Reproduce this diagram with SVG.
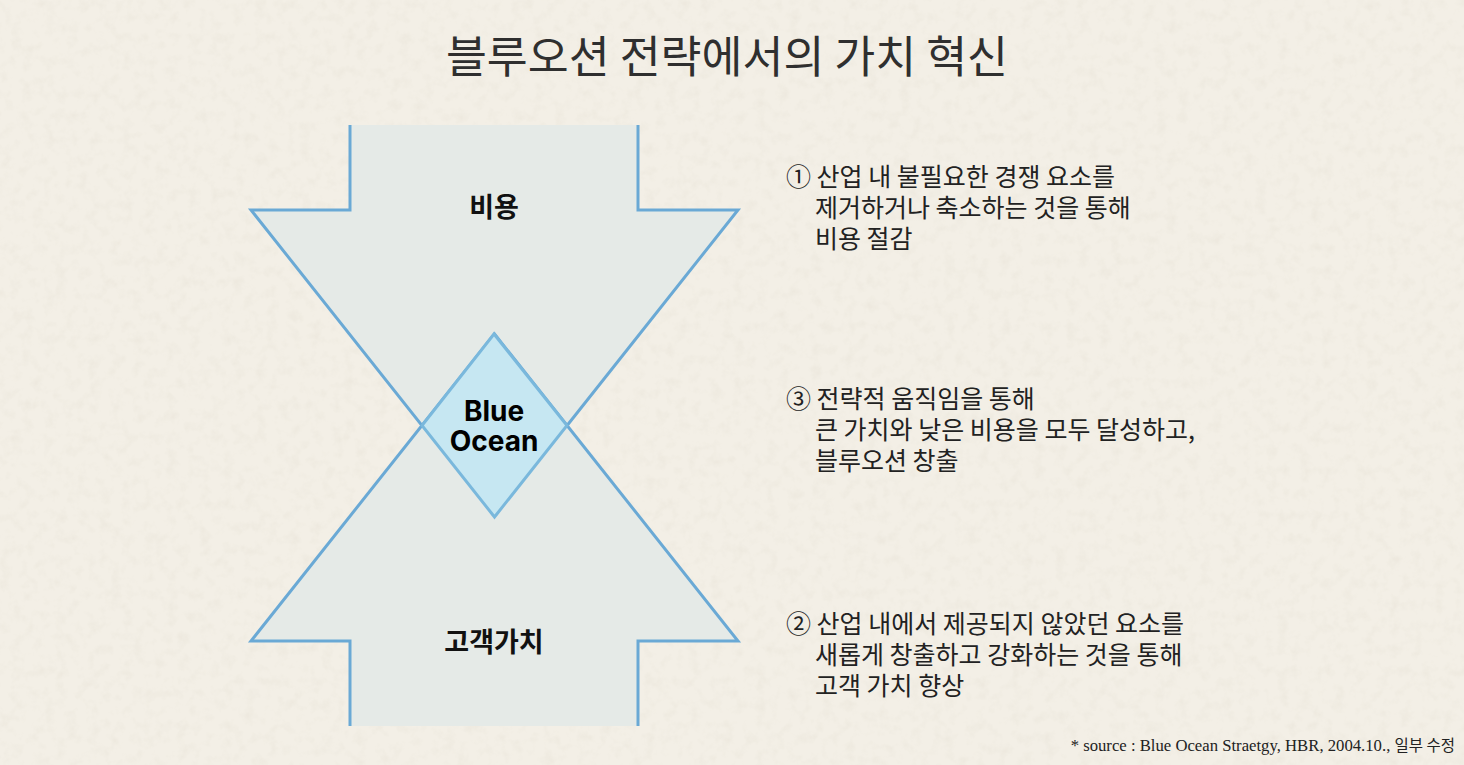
<svg xmlns="http://www.w3.org/2000/svg" width="1464" height="765" viewBox="0 0 1464 765">
  <defs>
    <filter id="paper" x="0" y="0" width="100%" height="100%">
      <feTurbulence type="fractalNoise" baseFrequency="0.09" numOctaves="3" seed="7" result="n"/>
      <feColorMatrix type="matrix" values="0 0 0 0 0.6  0 0 0 0 0.56  0 0 0 0 0.45  0 0 0 -2.4 1.3" in="n" result="c"/>
      <feComposite in="c" in2="SourceGraphic" operator="in"/>
    </filter>
    <style>
      .bg { fill: #f3efe6; }
      .arrowFill { fill: #e5eae7; stroke: none; }
      .arrowEdge { fill: none; stroke: #6aa9d5; stroke-width: 3; stroke-linejoin: miter; }
      .diamond { fill: #c6e7f2; stroke: #7ab8dc; stroke-width: 3; stroke-linejoin: miter; }
      .label { font-family: "Noto Sans CJK KR", "Noto Sans", sans-serif; font-weight: 700; font-size: 27px; fill: #111; text-anchor: middle; }
      .blue { font-family: Inter, "Liberation Sans", sans-serif; font-weight: 700; font-size: 28px; fill: #000; text-anchor: middle; }
      .title { font-family: "Noto Sans CJK KR", "Noto Sans", sans-serif; font-weight: 400; font-size: 44.5px; fill: #2f2f2f; text-anchor: middle; }
      .desc { font-family: "Noto Sans CJK KR", "Noto Sans", sans-serif; font-weight: 400; font-size: 25px; fill: #222; }
      .src { font-family: "Liberation Serif", "Noto Sans CJK KR", serif; font-size: 16.7px; fill: #222; text-anchor: end; }
      .srcK { font-family: "Noto Sans CJK KR", sans-serif; font-size: 15.5px; }
    </style>
  </defs>

  <rect class="bg" x="0" y="0" width="1464" height="765"/>
  <rect x="0" y="0" width="1464" height="765" fill="#f3efe6" filter="url(#paper)" opacity="0.12"/>

  <text class="title" x="727" y="73">블루오션 전략에서의 가치 혁신</text>

  <g id="connectors"></g>

  <g id="node-cost">
    <polygon class="arrowFill" points="350,125 638,125 638,210 738,210 494.5,517 251,210 350,210"/>
    <polyline class="arrowEdge" points="350,125 350,210 251,210 494.5,517 738,210 638,210 638,125"/>
    <text class="label" x="494" y="217">비용</text>
  </g>

  <g id="node-value">
    <polygon class="arrowFill" points="350,726 638,726 638,641 738,641 494.5,334 251,641 350,641"/>
    <polyline class="arrowEdge" points="350,726 350,641 251,641 494.5,334 738,641 638,641 638,726"/>
    <text class="label" x="494" y="652">고객가치</text>
  </g>

  <g id="node-blue-ocean">
    <polygon class="diamond" points="494,334 567,425.5 494.5,517 422,425.5"/>
    <text class="blue" x="494" y="421">Blue</text>
    <text class="blue" x="494" y="451">Ocean</text>
  </g>

  <g id="note-1">
    <text class="desc" x="786" y="186">① 산업 내 불필요한 경쟁 요소를</text>
    <text class="desc" x="815" y="217">제거하거나 축소하는 것을 통해</text>
    <text class="desc" x="815" y="248">비용 절감</text>
  </g>

  <g id="note-3">
    <text class="desc" x="786" y="408">③ 전략적 움직임을 통해</text>
    <text class="desc" x="815" y="439">큰 가치와 낮은 비용을 모두 달성하고,</text>
    <text class="desc" x="815" y="470">블루오션 창출</text>
  </g>

  <g id="note-2">
    <text class="desc" x="786" y="633">② 산업 내에서 제공되지 않았던 요소를</text>
    <text class="desc" x="815" y="664">새롭게 창출하고 강화하는 것을 통해</text>
    <text class="desc" x="815" y="695">고객 가치 향상</text>
  </g>

  <text class="src" x="1455" y="751">* source : Blue Ocean Straetgy, HBR, 2004.10., <tspan class="srcK">일부 수정</tspan></text>
</svg>
